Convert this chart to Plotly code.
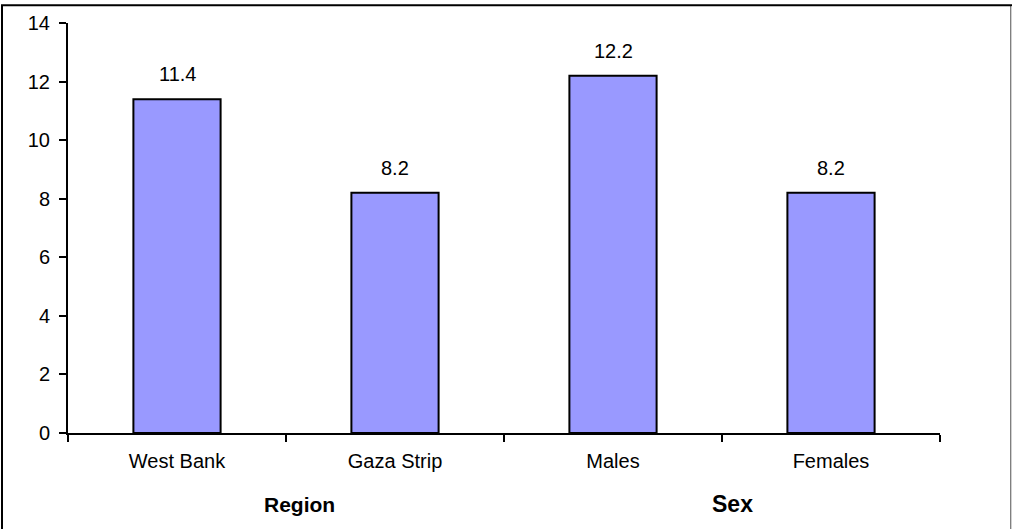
import plotly.graph_objects as go

# values
categories = ["West Bank", "Gaza Strip", "Males", "Females"]
values = [11.4, 8.2, 12.2, 8.2]
value_labels = ["11.4", "8.2", "12.2", "8.2"]
y_ticks = [0, 2, 4, 6, 8, 10, 12, 14]
group_labels = ["Region", "Sex"]

W, H = 1012, 529
L, R, T, B = 68, 72, 19, 96
pw, ph = W - L - R, H - T - B


def px_x(x):
    # pixel -> paper x
    return (x - L) / pw


def px_y(y):
    # pixel -> paper y
    return (H - B - y) / ph


fig = go.Figure(go.Bar(
    x=categories,
    y=values,
    marker=dict(color="#9999ff", line=dict(color="black", width=2)),
    width=0.4,
    hoverinfo="x+y",
))

fig.update_layout(
    width=W, height=H,
    margin=dict(l=L, r=R, t=T, b=B),
    paper_bgcolor="white",
    plot_bgcolor="white",
    font=dict(family="Liberation Sans, Arial, sans-serif", size=20, color="black"),
    showlegend=False,
)

fig.update_yaxes(
    range=[0, 14], tickvals=y_ticks,
    showline=True, linecolor="black", linewidth=2,
    ticks="outside", ticklen=7, tickwidth=2, tickcolor="black",
    ticklabelstandoff=5,
    showgrid=False, zeroline=False,
    tickfont=dict(size=20),
)
fig.update_xaxes(
    showline=True, linecolor="black", linewidth=2,
    ticks="outside", tickson="boundaries", ticklen=7, tickwidth=2, tickcolor="black",
    ticklabelstandoff=9,
    showgrid=False, tickfont=dict(size=20),
)

# value labels sit a little above each bar
for cat, val, lab in zip(categories, values, value_labels):
    fig.add_annotation(x=cat, y=val, text=lab, showarrow=False,
                       yanchor="bottom", yshift=12, font=dict(size=20))

# group labels under the category axis
fig.add_annotation(text="<b>" + group_labels[0] + "</b>", x=px_x(299), y=px_y(505),
                   xref="paper", yref="paper", xanchor="center", yanchor="middle",
                   showarrow=False, font=dict(size=21))
fig.add_annotation(text="<b>" + group_labels[1] + "</b>", x=px_x(732), y=px_y(505),
                   xref="paper", yref="paper", xanchor="center", yanchor="middle",
                   showarrow=False, font=dict(size=23))

# chart frame (top and left edges visible, right edge faint)
fig.add_shape(type="rect", xref="paper", yref="paper",
              x0=px_x(2), x1=px_x(1011.5), y0=px_y(540), y1=px_y(1),
              line=dict(color="black", width=2), layer="below")
fig.add_shape(type="line", xref="paper", yref="paper",
              x0=px_x(1011.5), x1=px_x(1011.5), y0=px_y(540), y1=px_y(2),
              line=dict(color="#d0d0d0", width=1))

fig.write_html("out.html", config={"displayModeBar": False},
               post_script="document.body.style.margin='0';")
